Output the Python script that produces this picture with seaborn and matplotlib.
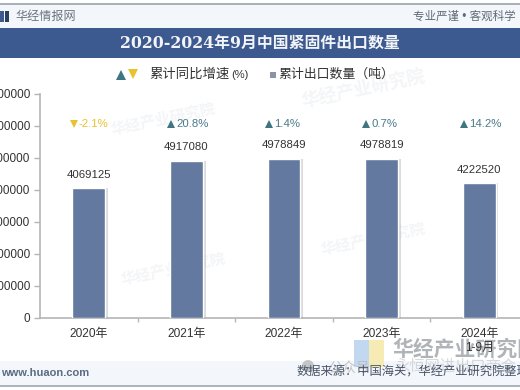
import matplotlib
matplotlib.use("Agg")
import matplotlib.pyplot as plt
import matplotlib.patheffects as pe
from matplotlib.patches import Rectangle, Circle
import seaborn as sns
import pandas as pd

sns.set_theme(style="white")
plt.rcParams['font.family'] = ['Liberation Sans', 'Noto Sans CJK SC', 'DejaVu Sans']

categories = ["2020年", "2021年", "2022年", "2023年", "2024年\n1-9月"]
export_tons = [4069125, 4917080, 4978849, 4978819, 4222520]
growth_pct = [-2.1, 20.8, 1.4, 0.7, 14.2]
y_ticks = [0, 1000000, 2000000, 3000000, 4000000, 5000000, 6000000, 7000000]
title = "2020-2024年9月中国紧固件出口数量"

W, H = 520, 390
BAR = "#64799f"
UP = "#3f7482"
DOWN = "#e8c230"
TXT = "#333333"

fig = plt.figure(figsize=(W / 100, H / 100), dpi=100, facecolor="white")

def band(y0, y1, color, z=0):
    fig.add_artist(Rectangle((0, 1 - y1 / H), 1, (y1 - y0) / H, transform=fig.transFigure,
                             facecolor=color, edgecolor="none", zorder=z))

def ftext(x, y, s, **kw):
    return fig.text(x / W, 1 - y / H, s, va="center", **kw)

band(4, 28, "#f3f6fb")
band(3, 5, "#a9b0b8")
band(28, 58, "#3c5a8f")
band(361, 385, "#f3f6fb")
band(385, 387, "#a9b4bc")

# axes: x span 40..528 px, y span 94..318 px (runs past the right edge of the figure)
ax = fig.add_axes([40 / W, 1 - 318 / H, 488 / W, 224 / H], zorder=1)
ax.patch.set_alpha(0)
df = pd.DataFrame({"cat": categories, "val": export_tons})
sns.barplot(data=df, x="cat", y="val", color=BAR, width=0.335, saturation=1, ax=ax, zorder=3)
for p in ax.patches:
    p.set_path_effects([pe.SimplePatchShadow(offset=(2, 0), shadow_rgbFace="#888888", alpha=0.3), pe.Normal()])

ax.set_xlim(-0.5, 4.5)
ax.set_ylim(0, 7000000)
ax.set_yticks(y_ticks, [str(v) for v in y_ticks])
ax.set_xticks([i - 0.5 for i in range(1, 5)], minor=True)
ax.set_xticks(range(5), categories)
ax.set_xlabel("")
ax.set_ylabel("")
for s in ("top", "right"):
    ax.spines[s].set_visible(False)
for s in ("left", "bottom"):
    ax.spines[s].set_color("#b5b5b5")
    ax.spines[s].set_linewidth(1.2)
ax.tick_params(axis="y", length=4, width=1, color="#b5b5b5", labelsize=8.5, labelcolor=TXT, pad=3, left=True)
ax.tick_params(axis="x", which="major", length=0, labelsize=8.6, labelcolor=TXT, pad=7.5, bottom=False)
ax.tick_params(axis="x", which="minor", length=3, width=1, color="#b5b5b5", bottom=True)

for i, (v, g) in enumerate(zip(export_tons, growth_pct)):
    ax.annotate(str(v), (i, v), xytext=(0, 9.5), textcoords="offset points", ha="center", va="center",
                fontsize=8.2, color=TXT, zorder=5)
    up = g >= 0
    col = UP if up else DOWN
    ax.plot([i - 0.155], [6070000], marker="^" if up else "v", ms=6.2, color=col, mew=0, ls="none",
            clip_on=False, zorder=5)
    ax.text(i - 0.105, 6070000, f"{g}%", ha="left", va="center", fontsize=8.2,
            color=col if not up else "#4a7a88", zorder=5)

# header, title, legend and footer text
ftext(15, 17, "华经情报网", fontsize=8.7, color="#6b7480")
ftext(413, 17, "专业严谨 • 客观科学", fontsize=8.3, color="#5f6a75")
ftext(260, 43, title, ha="center", fontsize=11.4, color="#f2f4f8", fontweight="bold",
      family=["DejaVu Serif", "Noto Sans CJK SC"])

legend_ax = fig.add_axes([0, 0, 1, 1], zorder=0.8)
legend_ax.set_xlim(0, W)
legend_ax.set_ylim(H, 0)
legend_ax.axis("off")
legend_ax.add_patch(Rectangle((0, 11), 3.5, 11, facecolor="#3c5a8f", edgecolor="none"))
legend_ax.add_patch(Rectangle((5, 11), 3.5, 11, facecolor="#2d3f5f", edgecolor="none"))
legend_ax.plot([120.5], [75], marker="^", ms=7, color=UP, mew=0)
legend_ax.plot([132.5], [74], marker="v", ms=7, color=DOWN, mew=0)
legend_ax.plot([272.5], [75], marker="s", ms=4.5, color="#8a94a6", mew=0)
ftext(149, 75, "累计同比增速", fontsize=9.6, color=TXT)
ftext(231, 75, "(%)", fontsize=8, color=TXT)
ftext(278, 75, "累计出口数量（吨）", fontsize=9.3, color=TXT)

ftext(1, 373, "www.huaon.com", fontsize=8, color="#5b6b82", fontweight="bold", family=["Liberation Sans"])
ftext(297, 373, "数据来源：中国海关，华经产业研究院整理", fontsize=8.8, color="#4a5568")

# watermarks, below the axes so the tick labels stay on top
legend_ax.add_patch(Rectangle((354, 340), 15, 27, facecolor="#bcd4ef", edgecolor="none", alpha=0.9))
legend_ax.add_patch(Rectangle((369, 340), 15, 27, facecolor="#f5e9ad", edgecolor="none", alpha=0.9))
legend_ax.add_patch(Circle((308, 366), 6, facecolor="#b8b8b8", edgecolor="none", alpha=0.8))
ftext(392, 349, "华经产业研究院", fontsize=15, color="#b0b4b8", fontweight="bold", zorder=0.9)
ftext(328, 369, "公众号", fontsize=10, color="#b8b8b8", alpha=0.8, zorder=0.9)
ftext(395, 367, "永恒网进出口商会", fontsize=11, color="#c4c8cc", alpha=0.7, zorder=0.9)
for x, y, rot, fs in [(110, 120, 12, 11), (300, 90, 12, 13), (120, 270, 12, 11), (320, 240, 12, 11)]:
    fig.text(x / W, 1 - y / H, "华经产业研究院", fontsize=fs, color="#d9dee6", alpha=0.3, rotation=rot,
             ha="left", va="center", fontweight="bold", zorder=0.9)

fig.savefig("out.png", dpi=100)
